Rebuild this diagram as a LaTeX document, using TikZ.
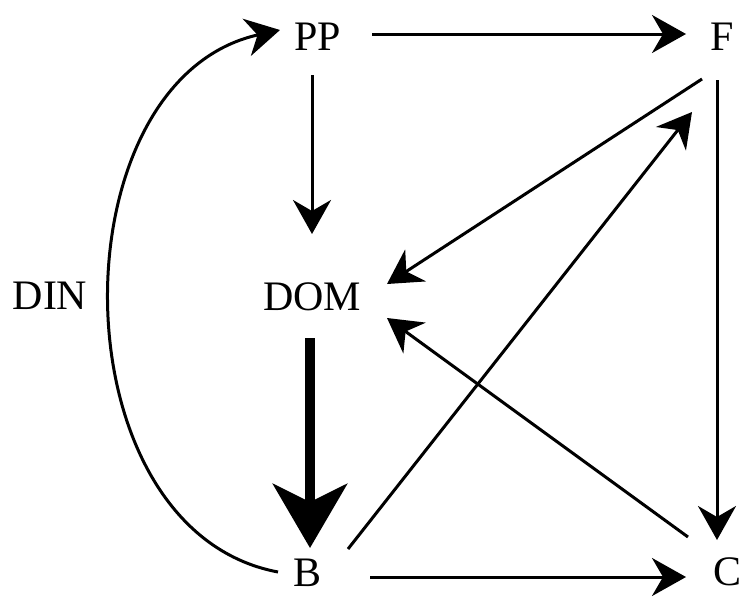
\documentclass[tikz,border=0pt]{standalone}
\usepackage{fontspec}
\setmainfont{Liberation Serif}
\usetikzlibrary{arrows.meta}
\begin{document}
\begin{tikzpicture}[x=1pt,y=-1pt,
  lbl/.style={inner sep=0pt,font=\fontsize{42}{48}\selectfont},
  con/.style={line width=3pt,-{Stealth[length=34pt,width=38pt,inset=11pt]}},
  bigcon/.style={line width=10pt,-{Stealth[length=64pt,width=74pt,inset=18pt]}}]
\useasboundingbox (0,0) rectangle (743,597);
\node[lbl] (PP) at (318,37) {PP};
\node[lbl] (F) at (722,37) {F};
\node[lbl] (DOM) at (312,297) {DOM};
\node[lbl] (B) at (308,573) {B};
\node[lbl] (C) at (727,572) {C};
\node[lbl] (DIN) at (50,296) {DIN};
\coordinate (ppR) at (372,34);
\coordinate (fL) at (686,34);
\coordinate (ppB) at (312,75);
\coordinate (domT) at (312,234);
\coordinate (fS) at (702,79);
\coordinate (domR1) at (387,284);
\coordinate (bS) at (348,549);
\coordinate (fT) at (692,112);
\coordinate (fB) at (717,80);
\coordinate (cT) at (717,540);
\coordinate (bR) at (370,577);
\coordinate (cL) at (686,577);
\coordinate (cS) at (688,537);
\coordinate (domR2) at (387,318);
\coordinate (domB) at (310,338);
\coordinate (bT) at (310,548);
\coordinate (bL) at (278,572);
\coordinate (ppL) at (280,30);
\draw[con] (ppR) -- (fL);
\draw[con] (ppB) -- (domT);
\draw[con] (fS) -- (domR1);
\draw[con] (bS) -- (fT);
\draw[con] (fB) -- (cT);
\draw[con] (bR) -- (cL);
\draw[con] (cS) -- (domR2);
\draw[bigcon] (domB) -- (bT);
\draw[con] (bL) .. controls (54,530) and (54,80) .. (ppL);
\end{tikzpicture}
\end{document}
